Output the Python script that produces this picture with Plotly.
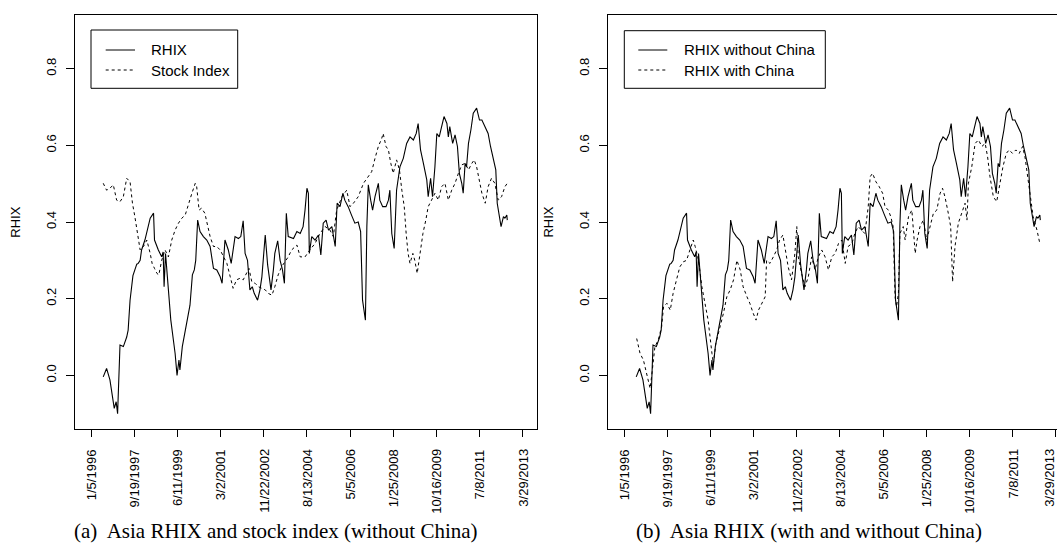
import numpy as np
import pandas as pd
import plotly.graph_objects as go

W, H = 1057, 547
start = pd.Timestamp("1996-01-05")

# Weeks since 1/5/1996 and values
rhix_weeks = [24, 31, 38, 42, 47, 51, 54, 59, 66, 73, 76, 80, 86, 94, 97, 101, 104, 111, 118, 122,
              129, 131, 139, 146, 149, 151, 154, 159, 165, 174, 178, 182, 184, 189, 196, 205, 210, 214, 217, 221,
              226, 233, 240, 247, 254, 261, 268, 272, 278, 285, 291, 299, 306, 311, 316, 320, 325, 330, 335, 339,
              346, 351, 355, 362, 367, 374, 379, 382, 388, 393, 398, 402, 406, 410, 421, 428, 435, 441, 445, 449,
              452, 454, 459, 466, 473, 478, 483, 489, 494, 501, 508, 512, 518, 524, 528, 535, 542, 549, 556, 561,
              565, 568, 571, 574, 577, 582, 586, 591, 598, 601, 607, 614, 619, 622, 626, 631, 636, 643, 650, 657,
              664, 671, 677, 681, 686, 692, 699, 702, 707, 711, 716, 720, 725, 730, 735, 741, 744, 747, 753, 758,
              763, 767, 772, 775, 779, 782, 786, 791, 796, 803, 809, 814, 821, 827, 832, 838, 843, 846, 850, 854,
              859, 862, 866, 867]
rhix_vals = [-0.004, 0.018, -0.012, -0.046, -0.086, -0.069, -0.10, 0.079, 0.075, 0.10, 0.118, 0.196, 0.26, 0.29, 0.292, 0.30, 0.327, 0.353, 0.388, 0.41,
             0.423, 0.353, 0.327, 0.309, 0.322, 0.231, 0.318, 0.231, 0.144, 0.057, 0.0, 0.04, 0.014, 0.075, 0.123, 0.183, 0.262, 0.275, 0.30, 0.405,
             0.375, 0.362, 0.353, 0.336, 0.279, 0.275, 0.257, 0.24, 0.353, 0.327, 0.292, 0.362, 0.357, 0.362, 0.403, 0.318, 0.30, 0.223, 0.231, 0.214,
             0.196, 0.223, 0.257, 0.366, 0.288, 0.223, 0.275, 0.318, 0.351, 0.30, 0.275, 0.24, 0.423, 0.362, 0.357, 0.375, 0.37, 0.388, 0.431, 0.488,
             0.475, 0.318, 0.362, 0.353, 0.366, 0.314, 0.397, 0.405, 0.379, 0.388, 0.336, 0.449, 0.44, 0.475, 0.457, 0.44, 0.418, 0.397, 0.40, 0.375,
             0.196, 0.175, 0.144, 0.388, 0.497, 0.457, 0.431, 0.466, 0.501, 0.457, 0.44, 0.44, 0.457, 0.483, 0.37, 0.331, 0.483, 0.544, 0.566, 0.605,
             0.622, 0.614, 0.631, 0.657, 0.588, 0.553, 0.51, 0.466, 0.514, 0.466, 0.544, 0.631, 0.622, 0.649, 0.675, 0.657, 0.622, 0.649, 0.605, 0.627,
             0.597, 0.527, 0.501, 0.475, 0.553, 0.544, 0.605, 0.64, 0.684, 0.697, 0.666, 0.666, 0.649, 0.631, 0.597, 0.562, 0.536, 0.449, 0.418, 0.388,
             0.414, 0.41, 0.418, 0.405]

stock_weeks = [24, 31, 38, 45, 52, 59, 66, 73, 80, 85, 90, 96, 101, 108, 115, 122, 126, 131, 136, 140,
               146, 153, 160, 167, 174, 181, 188, 195, 202, 209, 216, 219, 224, 229, 236, 242, 247, 254, 261, 268,
               275, 282, 289, 295, 302, 309, 316, 323, 328, 334, 341, 348, 355, 362, 368, 376, 382, 389, 396, 405,
               410, 417, 424, 428, 435, 445, 455, 466, 476, 487, 497, 504, 511, 522, 532, 539, 546, 556, 567, 577,
               584, 591, 598, 605, 608, 614, 619, 624, 629, 636, 642, 647, 652, 656, 660, 664, 670, 674, 679, 685,
               691, 697, 702, 709, 716, 723, 730, 737, 744, 751, 758, 765, 772, 779, 786, 793, 798, 803, 809, 814,
               821, 827, 834, 841, 848, 855, 862, 867]
stock_vals = [0.501, 0.483, 0.488, 0.497, 0.457, 0.453, 0.466, 0.514, 0.505, 0.449, 0.414, 0.362, 0.327, 0.336, 0.353, 0.318, 0.292, 0.279, 0.266, 0.262,
              0.30, 0.327, 0.309, 0.353, 0.379, 0.397, 0.41, 0.418, 0.449, 0.475, 0.501, 0.492, 0.431, 0.436, 0.423, 0.388, 0.362, 0.336, 0.336, 0.327,
              0.309, 0.292, 0.257, 0.227, 0.249, 0.253, 0.249, 0.266, 0.279, 0.244, 0.24, 0.231, 0.227, 0.223, 0.214, 0.209, 0.231, 0.262, 0.283, 0.30,
              0.309, 0.327, 0.336, 0.34, 0.309, 0.309, 0.327, 0.344, 0.37, 0.388, 0.379, 0.362, 0.431, 0.466, 0.483, 0.44, 0.449, 0.466, 0.501, 0.518,
              0.531, 0.566, 0.597, 0.618, 0.631, 0.597, 0.588, 0.553, 0.527, 0.562, 0.536, 0.483, 0.44, 0.37, 0.318, 0.292, 0.318, 0.30, 0.266, 0.318,
              0.37, 0.405, 0.44, 0.457, 0.475, 0.457, 0.492, 0.501, 0.457, 0.483, 0.501, 0.527, 0.549, 0.553, 0.536, 0.553, 0.562, 0.544, 0.501, 0.475,
              0.449, 0.492, 0.514, 0.501, 0.457, 0.466, 0.492, 0.501]

china_weeks = [25, 32, 39, 46, 53, 56, 63, 70, 77, 81, 88, 95, 101, 108, 115, 122, 129, 136, 143, 147,
               154, 161, 168, 174, 182, 185, 190, 199, 206, 213, 220, 227, 234, 241, 247, 255, 261, 268, 274, 279,
               286, 293, 296, 303, 310, 317, 323, 330, 334, 341, 348, 355, 359, 362, 369, 376, 383, 390, 397, 404,
               411, 418, 425, 432, 439, 446, 453, 460, 466, 474, 480, 487, 494, 501, 508, 512, 517, 524, 531, 538,
               543, 550, 555, 560, 564, 567, 571, 574, 581, 585, 592, 599, 606, 610, 616, 623, 630, 637, 644, 651,
               658, 663, 668, 675, 680, 684, 689, 696, 703, 710, 714, 717, 724, 731, 738, 745, 752, 757, 762, 769,
               776, 782, 789, 796, 802, 809, 816, 823, 830, 835, 840, 846, 852, 860, 866]
china_vals = [0.096, 0.057, 0.04, 0.005, -0.034, -0.004, 0.075, 0.092, 0.127, 0.179, 0.188, 0.17, 0.214, 0.249, 0.283, 0.296, 0.30, 0.327, 0.353, 0.336,
              0.30, 0.231, 0.179, 0.144, 0.057, 0.031, 0.083, 0.127, 0.162, 0.205, 0.223, 0.249, 0.30, 0.275, 0.231, 0.205, 0.188, 0.162, 0.144, 0.17,
              0.188, 0.205, 0.30, 0.292, 0.309, 0.327, 0.353, 0.366, 0.336, 0.283, 0.249, 0.318, 0.388, 0.309, 0.266, 0.231, 0.257, 0.309, 0.275, 0.309,
              0.327, 0.309, 0.275, 0.309, 0.318, 0.344, 0.353, 0.292, 0.336, 0.344, 0.37, 0.388, 0.379, 0.37, 0.44, 0.518, 0.527, 0.505, 0.492, 0.475,
              0.44, 0.431, 0.414, 0.388, 0.205, 0.179, 0.214, 0.37, 0.388, 0.353, 0.414, 0.431, 0.318, 0.353, 0.388, 0.405, 0.353, 0.388, 0.423, 0.431,
              0.475, 0.488, 0.466, 0.423, 0.388, 0.244, 0.336, 0.397, 0.423, 0.449, 0.405, 0.501, 0.544, 0.605, 0.614, 0.597, 0.605, 0.57, 0.518, 0.466,
              0.453, 0.492, 0.544, 0.579, 0.588, 0.579, 0.588, 0.579, 0.597, 0.57, 0.527, 0.466, 0.414, 0.379, 0.344]

tick_labels = ["1/5/1996", "9/19/1997", "6/11/1999", "3/2/2001", "11/22/2002", "8/13/2004",
               "5/5/2006", "1/25/2008", "10/16/2009", "7/8/2011", "3/29/2013"]
y_ticks = [0.0, 0.2, 0.4, 0.6, 0.8]

assert len(rhix_weeks) == len(rhix_vals)
assert len(stock_weeks) == len(stock_vals)
assert len(china_weeks) == len(china_vals)


def to_dates(weeks):
    return start + pd.to_timedelta(np.asarray(weeks) * 7, unit="D")


tick_dates = pd.to_datetime(tick_labels, format="%m/%d/%Y")


def wk(w):
    return (start + pd.Timedelta(days=w * 7)).isoformat()


SANS = "Liberation Sans, Arial, sans-serif"
SERIF = "Liberation Serif, Times New Roman, serif"
DASH = "3px,3px"

fig = go.Figure()
# panel (a)
fig.add_trace(go.Scatter(x=to_dates(rhix_weeks), y=rhix_vals, mode="lines", name="RHIX",
                         line=dict(color="black", width=1.1), xaxis="x", yaxis="y", showlegend=False))
fig.add_trace(go.Scatter(x=to_dates(stock_weeks), y=stock_vals, mode="lines", name="Stock Index",
                         line=dict(color="black", width=1, dash=DASH), xaxis="x", yaxis="y", showlegend=False))
# panel (b)
fig.add_trace(go.Scatter(x=to_dates(rhix_weeks), y=rhix_vals, mode="lines", name="RHIX without China",
                         line=dict(color="black", width=1.1), xaxis="x2", yaxis="y2", showlegend=False))
fig.add_trace(go.Scatter(x=to_dates(china_weeks), y=china_vals, mode="lines", name="RHIX with China",
                         line=dict(color="black", width=1, dash=DASH), xaxis="x2", yaxis="y2", showlegend=False))

ydom = [(H - 429) / H, (H - 15) / H]

xcommon = dict(type="date", tickmode="array", tickvals=tick_dates, ticktext=tick_labels,
               showticklabels=False, ticks="outside", ticklen=7, tickcolor="black", tickwidth=1,
               showline=True, linecolor="black", linewidth=1, showgrid=False, zeroline=False)
ycommon = dict(range=[-0.14, 0.94], tickmode="array", tickvals=y_ticks,
               ticktext=[f"{v:.1f}" for v in y_ticks], tickangle=-90, ticklabelstandoff=5,
               ticks="outside", ticklen=8, tickcolor="black", tickwidth=1,
               showline=True, linecolor="black", linewidth=1, showgrid=False, zeroline=False,
               tickfont=dict(family=SANS, size=13, color="black"), domain=ydom)

fig.update_layout(
    width=W, height=H, margin=dict(l=0, r=0, t=0, b=0),
    paper_bgcolor="white", plot_bgcolor="white", template="none",
    xaxis=dict(xcommon, domain=[74.7 / W, 537.3 / W], range=[wk(-35.5), wk(929.6)],
               anchor="y", mirror=True),
    yaxis=dict(ycommon, anchor="x", mirror=True),
    xaxis2=dict(xcommon, domain=[607.7 / W, 1.0], range=[wk(-35.5), wk(901.8)],
                anchor="y2", mirror=True),
    yaxis2=dict(ycommon, anchor="x2", mirror=False),
)


def px(x):
    return x / W


def py(y):
    return 1 - y / H


shapes = []
annotations = []

# rotated date labels, top-aligned under the ticks (as R's las=2)
for xref in ("x", "x2"):
    for i, (d, lab) in enumerate(zip(tick_dates, tick_labels)):
        shift = -7 if (xref == "x2" and i == len(tick_labels) - 1) else 0
        annotations.append(dict(text=lab, xref=xref, yref="paper", x=d, y=py(447), xshift=shift,
                                textangle=-90, xanchor="center", yanchor="top", showarrow=False,
                                font=dict(family=SANS, size=13, color="black")))


def legend_box(x0, y0, x1, y1, lx0, lx1, tx, rows):
    shapes.append(dict(type="rect", xref="paper", yref="paper", x0=px(x0), x1=px(x1),
                       y0=py(y1), y1=py(y0), line=dict(color="black", width=1), fillcolor="white"))
    for (yy, label, dash) in rows:
        shapes.append(dict(type="line", xref="paper", yref="paper", x0=px(lx0), x1=px(lx1),
                           y0=py(yy), y1=py(yy), line=dict(color="black", width=1, dash=dash)))
        annotations.append(dict(text=label, xref="paper", yref="paper", x=px(tx), y=py(yy),
                                xanchor="left", yanchor="middle", showarrow=False,
                                font=dict(family=SANS, size=15, color="black")))


legend_box(91, 30, 237.7, 88.3, 105.7, 135, 148.5,
           [(50, "RHIX", "solid"), (70, "Stock Index", DASH)])
legend_box(624.3, 30.7, 825.3, 88.3, 638.3, 667.3, 682,
           [(50, "RHIX without China", "solid"), (70, "RHIX with China", DASH)])

for xpix in (14.7, 547.6):
    annotations.append(dict(text="RHIX", xref="paper", yref="paper", x=px(xpix), y=py(222),
                            textangle=-90, xanchor="center", yanchor="middle", showarrow=False,
                            font=dict(family=SANS, size=13, color="black")))

annotations.append(dict(text="(a)  Asia RHIX and stock index (without China)", xref="paper", yref="paper",
                        x=px(275.5), y=py(531), xanchor="center", yanchor="middle", showarrow=False,
                        font=dict(family=SERIF, size=21, color="black")))
annotations.append(dict(text="(b)  Asia RHIX (with and without China)", xref="paper", yref="paper",
                        x=px(808.5), y=py(531), xanchor="center", yanchor="middle", showarrow=False,
                        font=dict(family=SERIF, size=21, color="black")))

fig.update_layout(shapes=shapes, annotations=annotations)
fig.write_html("out.html")
